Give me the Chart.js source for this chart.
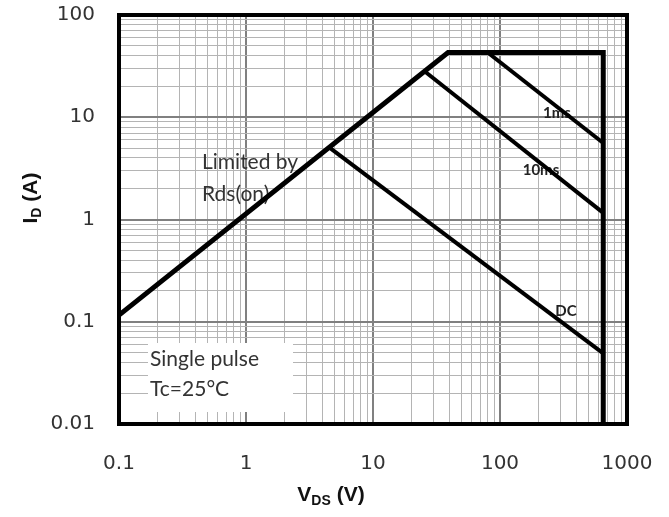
<!DOCTYPE html>
<html>
<head>
<meta charset="utf-8">
<title>Safe operating area</title>
<script src="https://cdn.jsdelivr.net/npm/chart.js@4.4.1/dist/chart.umd.min.js"></script>
<style>
  html, body { margin: 0; padding: 0; background: #fff; }
  canvas { display: block; }
</style>
</head>
<body>
<canvas id="soaChart" width="669" height="517"></canvas>
<script>
// boundary curves: drain-source voltage (V) vs drain current (A)
const limitV = [0.1, 39, 650, 650];
const limitI = [0.116, 43, 43, 0.01];
const pulse1msV = [80, 650];
const pulse1msI = [43, 5.6];
const pulse10msV = [25.6, 650];
const pulse10msI = [28, 1.16];
const dcV = [4.6, 650];
const dcI = [5.0, 0.049];

// labelled decades on each axis
const xDecades = [0.1, 1, 10, 100, 1000];
const yDecades = [0.01, 0.1, 1, 10, 100];

const toPoints = (xs, ys) => xs.map((x, i) => ({ x: x, y: ys[i] }));

// 1..9 per decade, so every minor grid line is drawn
function logTicks(decades) {
    const ticks = [];
    decades.forEach((d, i) => {
        if (i === decades.length - 1) { ticks.push({ value: d }); return; }
        for (let k = 1; k < 10; k++) ticks.push({ value: parseFloat((k * d).toPrecision(6)) });
    });
    return ticks;
}

// invisible tick marks give the label gap without padding the chart area
function gridOpts(decades, gap) {
    return {
        drawTicks: true,
        tickLength: gap,
        tickColor: 'rgba(0,0,0,0)',
        color: ctx => decades.includes(ctx.tick && ctx.tick.value) ? '#808080' : '#b4b4b4',
        lineWidth: ctx => decades.includes(ctx.tick && ctx.tick.value) ? 2 : 1
    };
}

const tickFont = { family: 'DejaVu Sans', size: 20 };

// text with a subscript part, centred on x
function drawSubText(ctx, parts, x, y) {
    let total = 0;
    parts.forEach(p => { ctx.font = p.font; total += ctx.measureText(p.text).width; });
    let cx = x - total / 2;
    ctx.textAlign = 'left';
    ctx.textBaseline = 'alphabetic';
    parts.forEach(p => {
        ctx.font = p.font;
        ctx.fillText(p.text, cx, y + (p.dy || 0));
        cx += ctx.measureText(p.text).width;
    });
}

const decorations = {
    id: 'decorations',
    beforeDatasetsDraw(chart) {
        const ctx = chart.ctx;
        const a = chart.chartArea;
        ctx.save();

        // note box over the grid
        ctx.fillStyle = '#ffffff';
        ctx.fillRect(148, 343, 145, 69);

        ctx.fillStyle = '#333333';
        ctx.textAlign = 'left';
        ctx.textBaseline = 'alphabetic';
        ctx.font = '21px Lato';
        ctx.fillText('Limited by', 202, 169);
        ctx.fillText('Rds(on)', 202, 201);
        ctx.fillText('Single pulse', 150, 366);
        ctx.fillText('Tc=25°C', 150, 396);

        ctx.fillStyle = '#222222';
        ctx.font = 'bold 15px Lato';
        ctx.textAlign = 'center';
        ctx.textBaseline = 'middle';
        ctx.fillText('1ms', 557, 113);
        ctx.fillText('10ms', 541, 170);
        ctx.fillText('DC', 566, 311);

        // plot frame
        ctx.strokeStyle = '#000000';
        ctx.lineWidth = 4;
        ctx.strokeRect(a.left, a.top, a.right - a.left, a.bottom - a.top);
        ctx.restore();
    },
    afterDraw(chart) {
        const ctx = chart.ctx;
        ctx.save();
        ctx.fillStyle = '#111111';
        const big = 'bold 21px "Liberation Sans"';
        const small = 'bold 14px "Liberation Sans"';
        drawSubText(ctx, [
            { text: 'V', font: big },
            { text: 'DS', font: small, dy: 4 },
            { text: ' (V)', font: big }
        ], 331, 501);

        ctx.translate(37, 198);
        ctx.rotate(-Math.PI / 2);
        drawSubText(ctx, [
            { text: 'I', font: big },
            { text: 'D', font: small, dy: 4 },
            { text: ' (A)', font: big }
        ], 0, 0);
        ctx.restore();
    }
};

const lineStyle = { borderColor: '#000000', pointRadius: 0, showLine: true, fill: false, tension: 0 };

new Chart(document.getElementById('soaChart').getContext('2d'), {
    type: 'scatter',
    data: {
        datasets: [
            Object.assign({ label: 'Limit', data: toPoints(limitV, limitI), borderWidth: 5 }, lineStyle),
            Object.assign({ label: '1ms', data: toPoints(pulse1msV, pulse1msI), borderWidth: 4 }, lineStyle),
            Object.assign({ label: '10ms', data: toPoints(pulse10msV, pulse10msI), borderWidth: 4 }, lineStyle),
            Object.assign({ label: 'DC', data: toPoints(dcV, dcI), borderWidth: 4 }, lineStyle)
        ]
    },
    options: {
        responsive: false,
        devicePixelRatio: 1,
        animation: false,
        layout: { padding: { top: 15, right: 42, left: 0, bottom: 0 } },
        plugins: { legend: { display: false }, tooltip: { enabled: false } },
        scales: {
            x: {
                type: 'logarithmic',
                min: 0.1,
                max: 1000,
                afterBuildTicks: s => { s.ticks = logTicks(xDecades); },
                afterFit: s => { s.height = 93; },
                border: { display: false },
                grid: gridOpts(xDecades, 26),
                ticks: {
                    autoSkip: false,
                    maxRotation: 0,
                    padding: 2,
                    color: '#333333',
                    font: tickFont,
                    callback: v => xDecades.includes(v) ? String(v) : ''
                }
            },
            y: {
                type: 'logarithmic',
                min: 0.01,
                max: 100,
                afterBuildTicks: s => { s.ticks = logTicks(yDecades); },
                afterFit: s => { s.width = 119; },
                border: { display: false },
                grid: gridOpts(yDecades, 22),
                ticks: {
                    autoSkip: false,
                    padding: 2,
                    color: '#333333',
                    font: tickFont,
                    callback: v => yDecades.includes(v) ? String(v) : ''
                }
            }
        }
    },
    plugins: [decorations]
});
</script>
</body>
</html>
